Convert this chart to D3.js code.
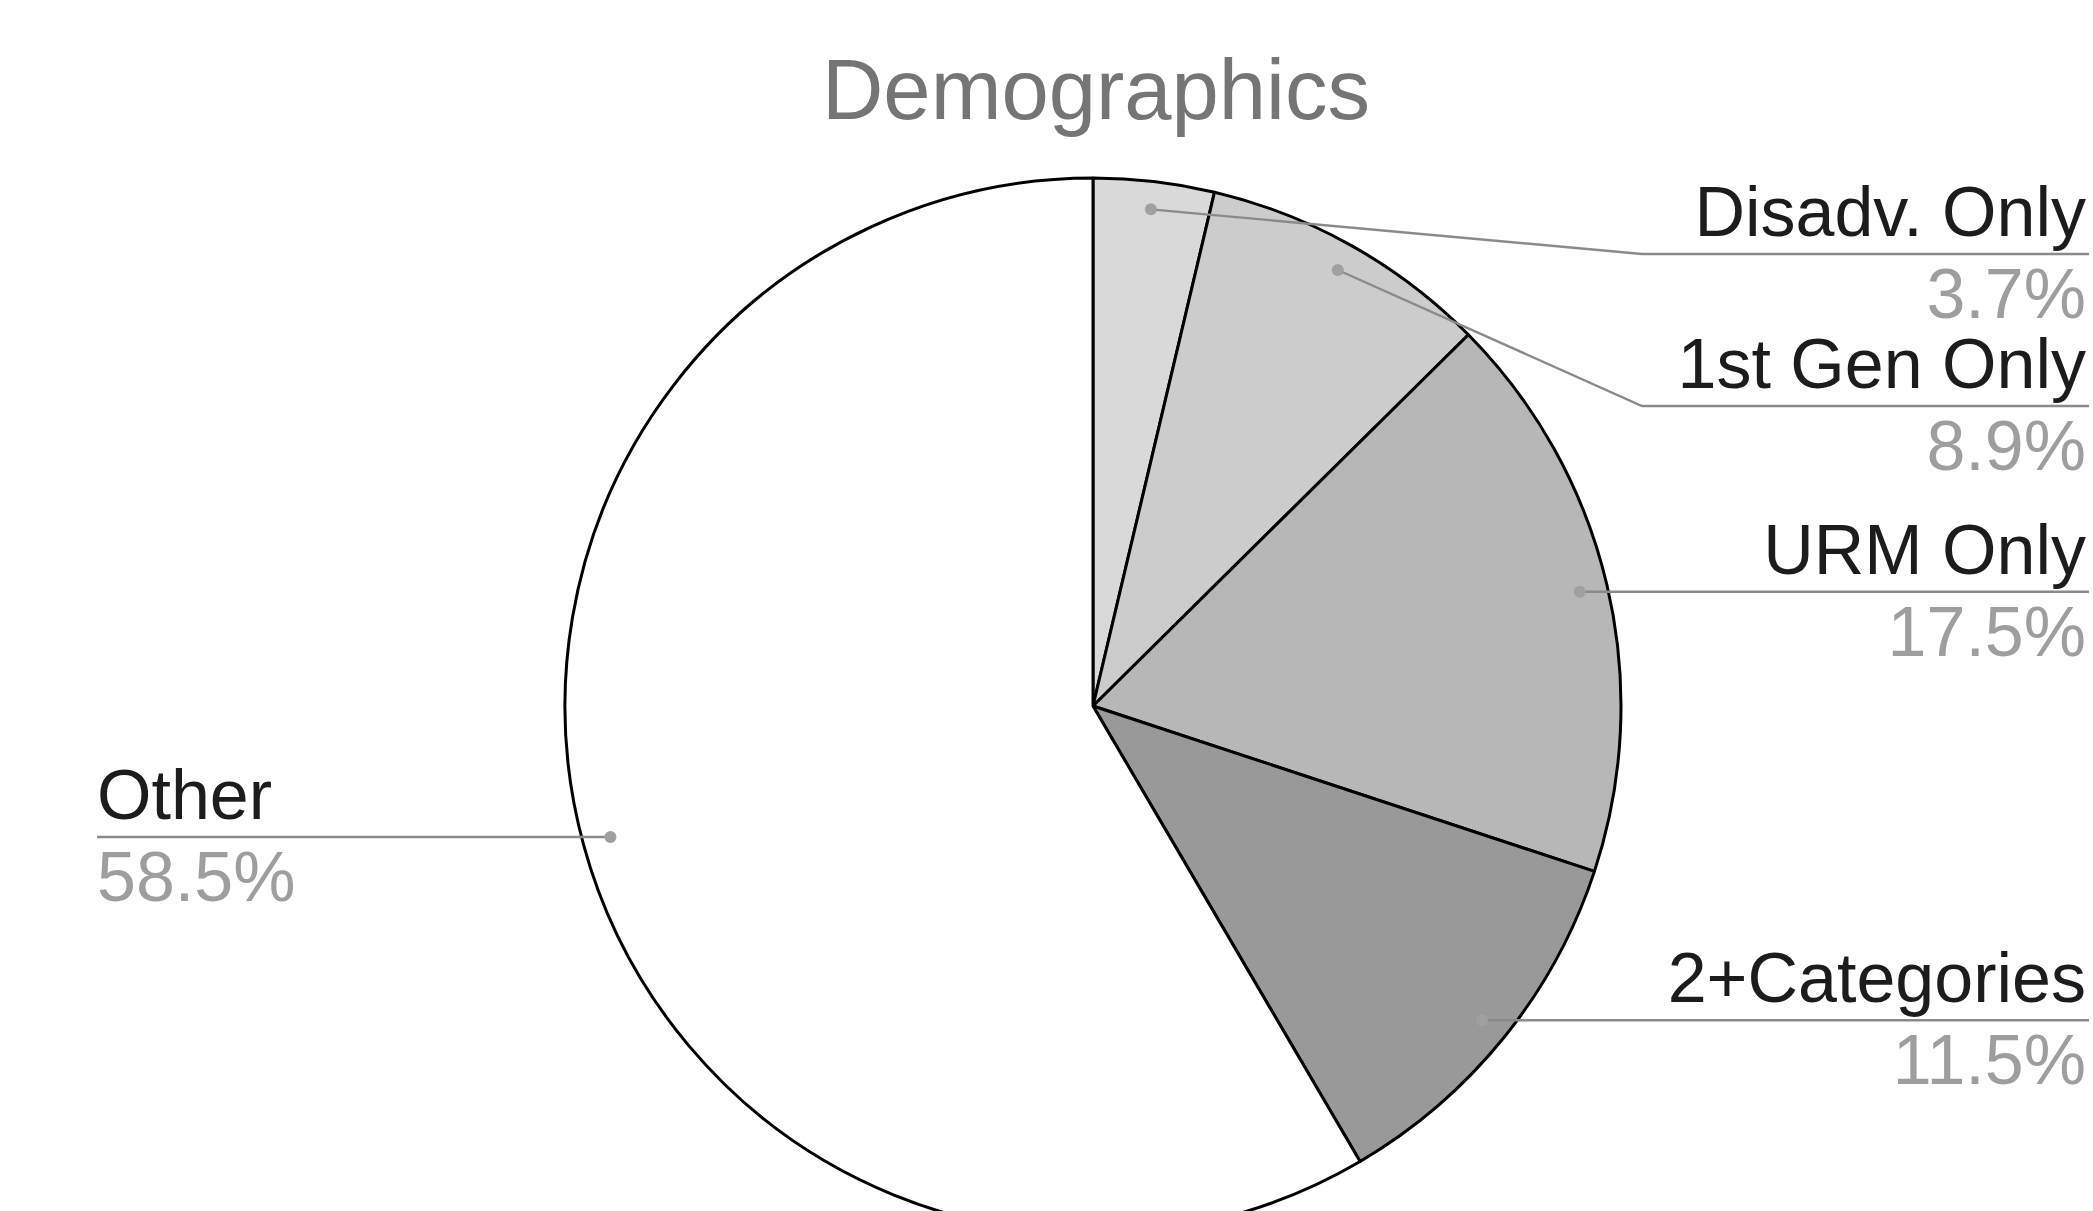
<!DOCTYPE html>
<html>
<head>
<meta charset="utf-8">
<script src="https://cdn.jsdelivr.net/npm/d3@7"></script>
<style>
  html, body { margin: 0; padding: 0; background: #fff; overflow: hidden; }
  text { font-family: "Liberation Sans", Arial, sans-serif; }
</style>
</head>
<body>
<div id="container"></div>
<script>
let w = 2093;
let h = 1211;

// data
let categories = ["Disadv. Only", "1st Gen Only", "URM Only", "2+Categories", "Other"];
let values = [3.7, 8.9, 17.5, 11.5, 58.5];
let percentLabels = ["3.7%", "8.9%", "17.5%", "11.5%", "58.5%"];
let title = "Demographics";

let data = categories.map(function(c, i){
  return {name: c, value: values[i], pct: percentLabels[i]};
});

// layout
let cx = 1093;
let cy = 706;
let radius = 528;
let dotRadius = radius * 0.947;
let labelFont = 70;
let rightEnd = 2089;
let kinkX = 1642;
let leftEnd = 97;
let minLineY = 254;
let labelGap = 152;

let color = d3.scaleOrdinal()
  .domain(categories)
  .range(["#d9d9d9", "#cccccc", "#b7b7b7", "#999999", "#ffffff"]);

let viz = d3.select("#container")
  .append("svg")
    .attr("width", w)
    .attr("height", h)
    .style("display", "block");

viz.append("text")
  .attr("x", 1096)
  .attr("y", 119)
  .attr("text-anchor", "middle")
  .attr("font-size", 85)
  .attr("fill", "#757575")
  .text(title);

let pie = d3.pie().sort(null).value(function(d){ return d.value; });
let arcs = pie(data);

let arc = d3.arc().innerRadius(0).outerRadius(radius);
let dotArc = d3.arc().innerRadius(dotRadius).outerRadius(dotRadius);

let pieGroup = viz.append("g").attr("transform", "translate(" + cx + "," + cy + ")");

pieGroup.selectAll(".slice")
  .data(arcs)
  .enter()
  .append("path")
    .attr("class", "slice")
    .attr("d", arc)
    .attr("fill", function(d){ return color(d.data.name); })
    .attr("stroke", "#000")
    .attr("stroke-width", 3)
    .attr("stroke-linejoin", "round");

// label positions
let labels = arcs.map(function(d){
  let c = dotArc.centroid(d);
  let mid = (d.startAngle + d.endAngle) / 2;
  return {d: d, x: cx + c[0], y: cy + c[1], right: mid < Math.PI};
});

// push right-side labels down so they don't overlap
let rightLabels = labels.filter(function(l){ return l.right; })
  .sort(function(a, b){ return a.y - b.y; });
let prev = minLineY - labelGap;
rightLabels.forEach(function(l){
  l.lineY = Math.max(l.y, prev + labelGap);
  prev = l.lineY;
});
labels.filter(function(l){ return !l.right; }).forEach(function(l){
  l.lineY = l.y;
});

let labelGroup = viz.append("g").attr("class", "labels");

labels.forEach(function(l){
  let pts;
  if(l.right){
    pts = [[l.x, l.y], [Math.max(kinkX, l.x), l.lineY], [rightEnd, l.lineY]];
  }else{
    pts = [[l.x, l.y], [leftEnd, l.lineY]];
  }
  labelGroup.append("path")
    .attr("d", d3.line()(pts))
    .attr("fill", "none")
    .attr("stroke", "#8a8a8a")
    .attr("stroke-width", 2.4);

  labelGroup.append("circle")
    .attr("cx", l.x)
    .attr("cy", l.y)
    .attr("r", 6)
    .attr("fill", "#a0a0a0");

  let tx = l.right ? rightEnd - 3 : leftEnd;
  let anchor = l.right ? "end" : "start";

  labelGroup.append("text")
    .attr("x", tx)
    .attr("y", l.lineY - 18)
    .attr("text-anchor", anchor)
    .attr("font-size", labelFont)
    .attr("fill", "#1c1c1c")
    .text(l.d.data.name);

  labelGroup.append("text")
    .attr("x", tx)
    .attr("y", l.lineY + 64)
    .attr("text-anchor", anchor)
    .attr("font-size", labelFont)
    .attr("fill", "#9e9e9e")
    .text(l.d.data.pct);
});
</script>
</body>
</html>
